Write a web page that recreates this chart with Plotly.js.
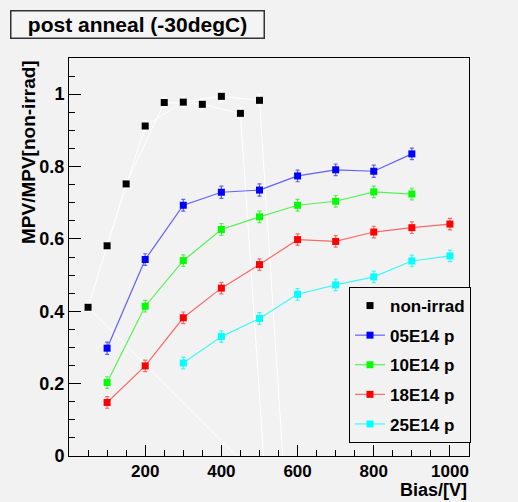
<!DOCTYPE html>
<html>
<head>
<meta charset="utf-8">
<script src="https://cdn.plot.ly/plotly-3.0.1.min.js"></script>
<style>
html,body{margin:0;padding:0;background:#f2f2f2;}
#chart{width:518px;height:502px;}
</style>
</head>
<body>
<div id="chart"></div>
<script>
// ---- data ----
const nonIrradBias = [50, 100, 150, 200, 250, 300, 350, 400, 450, 500];
const nonIrradMPV  = [0.411, 0.581, 0.752, 0.912, 0.977, 0.978, 0.972, 0.994, 0.947, 0.983];
const nonIrradErr  = [0.012, 0.012, 0.012, 0.015, 0.015, 0.015, 0.015, 0.016, 0.016, 0.016];
// order in which the original graph's (faint white) polyline joins its points
const nonIrradPathBias = [100, 200, 300, 400, 500, 566, 516, 50, 150, 250, 350, 450, 516];
const nonIrradPathMPV  = [0.581, 0.912, 0.978, 0.994, 0.983, -0.08, -0.08, 0.411, 0.752, 0.977, 0.972, 0.947, -0.08];

const bias05 = [100, 200, 300, 400, 500, 600, 700, 800, 900];
const mpv05  = [0.298, 0.543, 0.693, 0.729, 0.735, 0.774, 0.791, 0.787, 0.835];
const err05  = [0.017, 0.016, 0.016, 0.017, 0.017, 0.016, 0.016, 0.017, 0.016];

const bias10 = [100, 200, 300, 400, 500, 600, 700, 800, 900];
const mpv10  = [0.203, 0.414, 0.540, 0.626, 0.661, 0.693, 0.704, 0.730, 0.724];
const err10  = [0.016, 0.016, 0.016, 0.016, 0.016, 0.016, 0.016, 0.016, 0.016];

const bias18 = [100, 200, 300, 400, 500, 600, 700, 800, 900, 1000];
const mpv18  = [0.148, 0.249, 0.382, 0.464, 0.529, 0.598, 0.593, 0.619, 0.631, 0.641];
const err18  = [0.016, 0.016, 0.016, 0.016, 0.016, 0.016, 0.016, 0.016, 0.016, 0.016];

const bias25 = [300, 400, 500, 600, 700, 800, 900, 1000];
const mpv25  = [0.257, 0.330, 0.380, 0.447, 0.473, 0.495, 0.539, 0.553];
const err25  = [0.016, 0.016, 0.016, 0.016, 0.016, 0.016, 0.016, 0.016];

const seriesNames = ['non-irrad', '05E14 p', '10E14 p', '18E14 p', '25E14 p'];
const xTickVals = [200, 400, 600, 800, 1000];
const yTickVals = [0, 0.2, 0.4, 0.6, 0.8, 1];
const titleText = 'post anneal (-30degC)';
const xTitle = 'Bias/[V]';
const yTitle = 'MPV/MPV[non-irrad]';

// ---- styling ----
const FONT = 'Liberation Sans, Arial, Helvetica, sans-serif';
function series(x, y, e, name, color, lineColor, group) {
  return {
    x: x, y: y, name: name, type: 'scatter', mode: 'lines+markers',
    legendgroup: group,
    line: {color: lineColor, width: 1.2},
    marker: {symbol: 'square', size: 7, color: color, line: {width: 0}},
    error_y: {type: 'data', array: e, visible: true, color: lineColor, thickness: 1.2, width: 2}
  };
}

const traces = [
  {x: nonIrradPathBias, y: nonIrradPathMPV, type: 'scatter', mode: 'lines',
   line: {color: '#ffffff', width: 1}, showlegend: false, hoverinfo: 'skip'},
  {x: nonIrradBias, y: nonIrradMPV, name: seriesNames[0], type: 'scatter', mode: 'markers',
   legendgroup: 'g0',
   marker: {symbol: 'square', size: 7, color: '#000000', line: {width: 0}},
   error_y: {type: 'data', array: nonIrradErr, visible: true, color: '#ffffff', thickness: 1, width: 2}},
  series(bias05, mpv05, err05, seriesNames[1], '#0000ff', 'rgba(70,70,255,0.85)', 'g1'),
  series(bias10, mpv10, err10, seriesNames[2], '#00ff00', 'rgba(60,240,60,0.85)', 'g2'),
  series(bias18, mpv18, err18, seriesNames[3], '#ff0000', 'rgba(255,80,80,0.85)', 'g3'),
  series(bias25, mpv25, err25, seriesNames[4], '#00ffff', 'rgba(40,250,250,0.9)', 'g4')
];

const layout = {
  width: 518, height: 502,
  paper_bgcolor: '#f2f2f2', plot_bgcolor: '#f2f2f2',
  margin: {l: 69, r: 49, t: 58, b: 46, pad: 0},
  showlegend: true,
  legend: {
    x: 0.7, y: 0.4246, xanchor: 'left', yanchor: 'top',
    bgcolor: '#f2f2f2', bordercolor: '#000', borderwidth: 1,
    font: {family: FONT, size: 17, color: '#000', weight: 'bold'},
    tracegroupgap: 4.5, itemwidth: 30
  },
  xaxis: {
    range: [0, 1050], tickmode: 'array', tickvals: xTickVals,
    ticks: 'inside', ticklen: 11, tickwidth: 1, tickcolor: '#000',
    minor: {dtick: 50, tick0: 0, ticks: 'inside', ticklen: 6, tickwidth: 1, tickcolor: '#000'},
    showline: true, linecolor: '#000', linewidth: 1, mirror: true,
    showgrid: false, zeroline: false,
    tickfont: {family: FONT, size: 17, color: '#000', weight: 'bold'},
    showticklabels: true, ticklabelstandoff: 0
  },
  yaxis: {
    range: [0, 1.1], tickmode: 'array', tickvals: yTickVals,
    ticks: 'inside', ticklen: 12, tickwidth: 1, tickcolor: '#000',
    minor: {dtick: 0.05, tick0: 0, ticks: 'inside', ticklen: 6, tickwidth: 1, tickcolor: '#000'},
    showline: true, linecolor: '#000', linewidth: 1, mirror: true,
    showgrid: false, zeroline: false,
    tickfont: {family: FONT, size: 18, color: '#000', weight: 'bold'}
  },
  annotations: [
    {text: titleText, xref: 'paper', yref: 'paper', x: -0.1475, y: 1.1206,
     xanchor: 'left', yanchor: 'top', showarrow: false,
     font: {family: FONT, size: 21, color: '#000', weight: 'bold'},
     bgcolor: '#f4f4f4', bordercolor: '#333', borderwidth: 1.5, borderpad: 1,
     width: 250, height: 24, align: 'center'},
    {text: xTitle, xref: 'paper', yref: 'paper', x: 1.0, y: -0.1156,
     xanchor: 'right', yanchor: 'bottom', showarrow: false,
     font: {family: FONT, size: 18, color: '#000', weight: 'bold'}},
    {text: yTitle, xref: 'paper', yref: 'paper', x: -0.1025, y: 1.0,
     xanchor: 'center', yanchor: 'top', showarrow: false, textangle: -90,
     font: {family: FONT, size: 19, color: '#000', weight: 'bold'}}
  ],
  shapes: [
    {type: 'rect', xref: 'paper', yref: 'paper', layer: 'above',
     x0: 0.71, x1: 1.005, y0: 0.0352, y1: 0.415,
     fillcolor: '#000', line: {width: 0}}
  ]
};

Plotly.newPlot('chart', traces, layout, {staticPlot: true, displayModeBar: false});
</script>
</body>
</html>
